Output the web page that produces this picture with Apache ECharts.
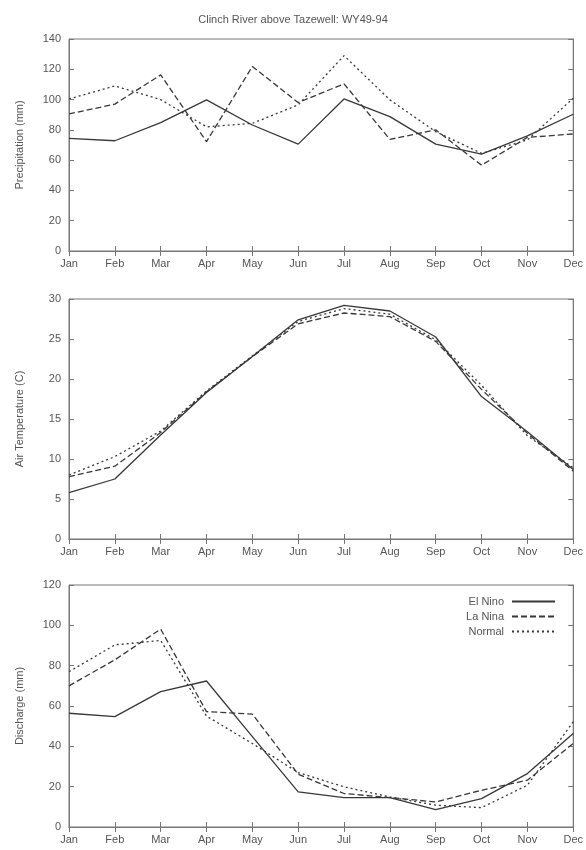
<!DOCTYPE html>
<html><head><meta charset="utf-8">
<script src="https://cdn.jsdelivr.net/npm/echarts@6/dist/echarts.min.js"></script>
<style>html,body{margin:0;padding:0;background:#fff}#c{width:586px;height:850px}</style>
</head><body><div id="c"></div>
<script>
const months = ['Jan','Feb','Mar','Apr','May','Jun','Jul','Aug','Sep','Oct','Nov','Dec'];
const seriesNames = ['El Nino','La Nina','Normal'];

const precipElNino = [74.4,72.8,84.8,99.8,83.2,70.6,100.4,88.7,70.6,64,76,90.3];
const precipLaNina = [90.5,97,116.3,72.2,121.9,98,110.4,73.7,80,56.7,75,77.3];
const precipNormal = [100.4,109,100,82,84.3,96.5,129,99.8,78.8,64.5,73.3,100.9];

const tempElNino = [5.8,7.5,13.0,18.3,22.8,27.4,29.2,28.5,25.25,17.8,13.4,8.7];
const tempLaNina = [7.8,9.1,13.3,18.4,22.8,26.9,28.25,27.8,24.7,18.7,13.2,8.5];
const tempNormal = [8.0,10.3,13.5,18.5,22.9,27.2,28.8,28.1,24.9,19.2,12.9,8.9];

const dischElNino = [56.4,54.7,67.1,72.4,44.8,17.4,14.6,14.6,8.6,14.1,26.5,46.4];
const dischLaNina = [70,82.9,98.1,57.2,56,26.2,16.6,14.6,12.4,18.2,23.2,41.4];
const dischNormal = [77,90.3,92.5,55,41.4,27,19.9,14.9,10.8,9.6,20.7,52.2];

const panels = [
  {name:'Precipitation (mm)', max:140, interval:20, data:[precipElNino,precipLaNina,precipNormal], top:39, height:212},
  {name:'Air Temperature (C)', max:30, interval:5, data:[tempElNino,tempLaNina,tempNormal], top:299, height:240},
  {name:'Discharge (mm)', max:120, interval:20, data:[dischElNino,dischLaNina,dischNormal], top:585, height:242}
];

const FONT = 'Liberation Sans';
const txt = '#555';
const axisC = '#777';
const lineC = '#383838';
const styles = [{type:'solid'},{type:[6,3]},{type:[2,3]}];

const grid=[], xAxis=[], yAxis=[], series=[];
panels.forEach((p,i)=>{
  grid.push({left:69, width:505, top:p.top, height:p.height, show:true, borderColor:axisC, borderWidth:1, backgroundColor:'transparent'});
  xAxis.push({type:'category', gridIndex:i, data:months, boundaryGap:false, position:'bottom',
    axisLine:{show:true, lineStyle:{color:axisC}}, axisTick:{show:true, inside:true, length:5, lineStyle:{color:axisC}},
    axisLabel:{color:txt, fontFamily:FONT, fontSize:11, margin:7, interval:0}, splitLine:{show:false}});
  xAxis.push({type:'category', gridIndex:i, data:months, boundaryGap:false, position:'top',
    axisLine:{show:true, lineStyle:{color:axisC}}, axisTick:{show:true, inside:true, length:5, lineStyle:{color:axisC}},
    axisLabel:{show:false}, splitLine:{show:false}});
  yAxis.push({type:'value', gridIndex:i, min:0, max:p.max, interval:p.interval, position:'left',
    name:p.name, nameLocation:'middle', nameGap:44, nameRotate:90,
    nameTextStyle:{color:txt, fontFamily:FONT, fontSize:11},
    axisLine:{show:true, lineStyle:{color:axisC}}, axisTick:{show:true, inside:true, length:5, lineStyle:{color:axisC}},
    axisLabel:{color:txt, fontFamily:FONT, fontSize:11, margin:8}, splitLine:{show:false}});
  yAxis.push({type:'value', gridIndex:i, min:0, max:p.max, interval:p.interval, position:'right',
    axisLine:{show:true, lineStyle:{color:axisC}}, axisTick:{show:true, inside:true, length:5, lineStyle:{color:axisC}},
    axisLabel:{show:false}, splitLine:{show:false}});
  p.data.forEach((d,k)=>{
    series.push({name:seriesNames[k], type:'line', xAxisIndex:2*i, yAxisIndex:2*i, data:d,
      symbol:'none', showSymbol:false, silent:true, animation:false,
      lineStyle:{color:lineC, width:1.3, type:styles[k].type}, itemStyle:{color:lineC}});
  });
});

const chart = echarts.init(document.getElementById('c'), null, {renderer:'canvas'});
chart.setOption({
  animation:false,
  backgroundColor:'#fff',
  title:{text:'Clinch River above Tazewell: WY49-94', left:'center', top:9,
    textStyle:{color:txt, fontFamily:FONT, fontSize:11, fontWeight:'normal'}},
  legend:{data:seriesNames, orient:'vertical', right:25, top:591, align:'right',
    itemWidth:43, itemHeight:10, itemGap:4,
    itemStyle:{opacity:0},
    textStyle:{color:txt, fontFamily:FONT, fontSize:11, padding:[0,3,0,0]}},
  grid, xAxis, yAxis, series
});
</script></body></html>
